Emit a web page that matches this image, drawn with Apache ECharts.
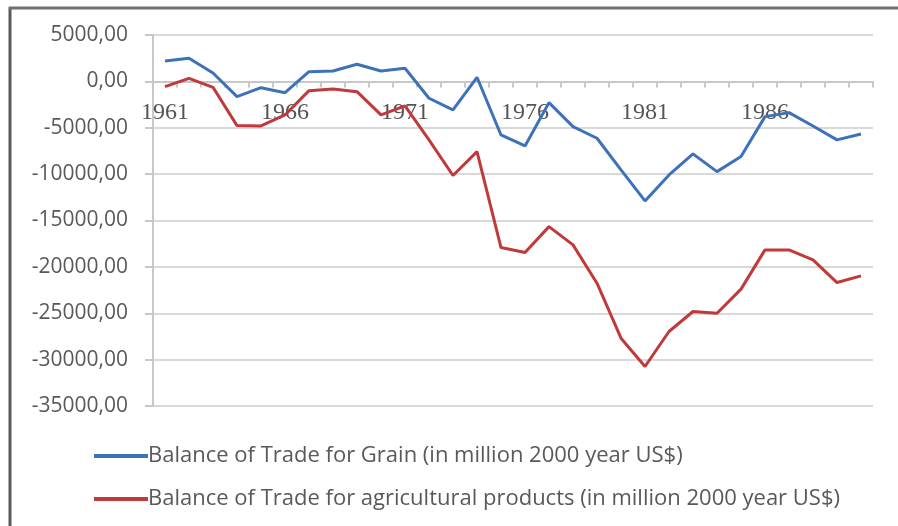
<!DOCTYPE html>
<html>
<head>
<meta charset="utf-8">
<script src="https://cdn.jsdelivr.net/npm/echarts@6/dist/echarts.min.js"></script>
<style>
html,body{margin:0;padding:0;background:#fff;}
#chart{width:898px;height:526px;}
</style>
</head>
<body>
<div id="chart"></div>
<script>
const years = ['1961','1962','1963','1964','1965','1966','1967','1968','1969','1970',
  '1971','1972','1973','1974','1975','1976','1977','1978','1979','1980',
  '1981','1982','1983','1984','1985','1986','1987','1988','1989','1990'];

const grainName = 'Balance of Trade for Grain (in million 2000 year US$)';
const grainValues = [2200, 2490, 900, -1650, -680, -1220, 1050, 1120, 1840, 1120,
  1410, -1820, -3080, 440, -5780, -6960, -2290, -4880, -6130, -9550,
  -12890, -10090, -7820, -9730, -8110, -3800, -3370, -4810, -6310, -5670];

const agriName = 'Balance of Trade for agricultural products (in million 2000 year US$)';
const agriValues = [-570, 330, -640, -4770, -4810, -3620, -1000, -820, -1110, -3620,
  -2650, -6310, -10150, -7570, -17920, -18460, -15660, -17630, -21760, -27690,
  -30740, -26970, -24810, -25000, -22400, -18170, -18170, -19250, -21690, -20970];

const yMin = -35000, yMax = 5000, yStep = 5000;

const gridTop = 35, gridBottom = 120, H = 526;
const plotH = H - gridTop - gridBottom;
// move the category axis up to the zero line of the value axis
const zeroOffset = -plotH * (0 - yMin) / (yMax - yMin);

const chart = echarts.init(document.getElementById('chart'), null, {renderer: 'canvas'});
chart.setOption({
  animation: false,
  backgroundColor: '#ffffff',
  graphic: [
    {type: 'line', shape: {x1: 10, y1: 7, x2: 10, y2: 526}, style: {stroke: '#5a5a5a', lineWidth: 3}, z: 100},
    {type: 'line', shape: {x1: 9, y1: 8, x2: 898, y2: 8}, style: {stroke: '#707070', lineWidth: 3}, z: 100}
  ],
  grid: {left: 153, right: 25, top: gridTop, bottom: gridBottom, containLabel: false},
  legend: {
    orient: 'vertical',
    left: 89, top: 439,
    icon: 'rect',
    itemWidth: 54, itemHeight: 4,
    itemGap: 19,
    textStyle: {fontFamily: 'Open Sans', fontSize: 22, color: '#595959', lineHeight: 24, padding: [0, 0, 0, -5]},
    data: [grainName, agriName]
  },
  xAxis: {
    type: 'category',
    data: years,
    boundaryGap: true,
    offset: zeroOffset,
    axisLine: {onZero: false, lineStyle: {color: '#c8c8c8', width: 2}},
    axisTick: {show: true, interval: 0, length: 6, lineStyle: {color: '#c8c8c8', width: 2}},
    axisLabel: {interval: 4, margin: 19, fontFamily: 'Liberation Serif', fontSize: 24, color: '#555555'},
    splitLine: {show: false}
  },
  yAxis: {
    type: 'value',
    min: yMin, max: yMax, interval: yStep,
    axisLine: {show: true, lineStyle: {color: '#c8c8c8', width: 2}},
    axisTick: {show: true, length: 8, lineStyle: {color: '#c8c8c8', width: 2}},
    axisLabel: {
      margin: 25, fontFamily: 'Open Sans', fontSize: 21, color: '#595959',
      formatter: v => v.toFixed(2).replace('.', ',')
    },
    splitLine: {show: true, lineStyle: {color: '#d9d9d9', width: 2}}
  },
  series: [
    {name: grainName, type: 'line', data: grainValues, showSymbol: false, symbol: 'none',
     itemStyle: {color: '#3d72b8'}, lineStyle: {color: '#3d72b8', width: 3}, z: 3},
    {name: agriName, type: 'line', data: agriValues, showSymbol: false, symbol: 'none',
     itemStyle: {color: '#c0393b'}, lineStyle: {color: '#c0393b', width: 3}, z: 2}
  ]
});
</script>
</body>
</html>
